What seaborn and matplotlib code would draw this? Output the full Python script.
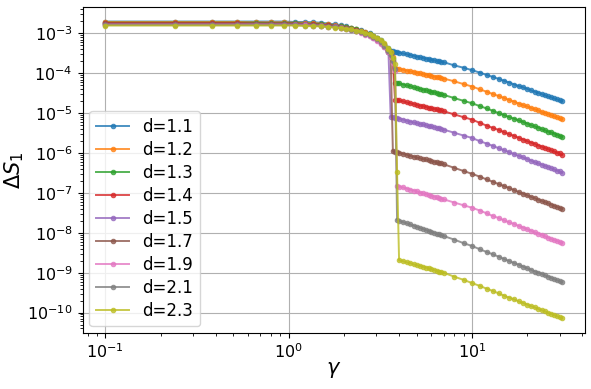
import numpy as np
import matplotlib
matplotlib.use('Agg')
import matplotlib.pyplot as plt
import seaborn as sns

# griglia di gamma (tre tratti con passo diverso)
gamma_lo = [0.10, 0.24, 0.38, 0.52, 0.66, 0.80, 0.94, 1.08, 1.22, 1.36, 1.50, 1.64, 1.78,
            1.92, 2.06, 2.20, 2.34, 2.48, 2.62, 2.76, 2.90, 3.04, 3.18, 3.32, 3.46]
gamma_mid = [3.5, 3.6, 3.7, 3.8, 3.9, 4.0, 4.2, 4.4, 4.6, 4.8, 5.0, 5.2, 5.4, 5.6, 5.8,
             6.0, 6.2, 6.4, 6.6, 6.8]
gamma_hi = [7, 8, 9, 10, 11, 12, 13, 14, 15, 16, 17, 18, 19, 20, 21, 22, 23, 24, 25,
            26, 27, 28, 29, 30, 31]

labels = ['d=1.1', 'd=1.2', 'd=1.3', 'd=1.4', 'd=1.5', 'd=1.7', 'd=1.9', 'd=2.1', 'd=2.3']

# log10(Delta S_1), un array per ogni d
log_d11 = [-2.70, -2.70, -2.70, -2.70, -2.70, -2.70, -2.70, -2.71, -2.71, -2.72, -2.73, -2.75, -2.77,
           -2.79, -2.82, -2.85, -2.88, -2.92, -2.96, -3.00, -3.06, -3.11, -3.17, -3.26, -3.37,
           -3.40, -3.44, -3.45, -3.46, -3.47, -3.48, -3.50, -3.52, -3.54, -3.56, -3.58, -3.60, -3.61,
           -3.63, -3.64, -3.66, -3.67, -3.69, -3.70, -3.71,
           -3.72, -3.80, -3.86, -3.92, -3.98, -4.04, -4.09, -4.14, -4.19, -4.23, -4.28, -4.32, -4.35,
           -4.39, -4.43, -4.46, -4.49, -4.52, -4.55, -4.58, -4.60, -4.63, -4.65, -4.68, -4.70]
log_d12 = [-2.71, -2.71, -2.71, -2.71, -2.72, -2.72, -2.72, -2.73, -2.73, -2.74, -2.75, -2.77, -2.79,
           -2.81, -2.83, -2.86, -2.89, -2.93, -2.97, -3.01, -3.06, -3.11, -3.18, -3.27, -3.38,
           -3.41, -3.47, -3.60, -3.87, -3.88, -3.89, -3.91, -3.93, -3.95, -3.96, -3.98, -4.00, -4.02,
           -4.03, -4.05, -4.06, -4.08, -4.09, -4.10, -4.12,
           -4.13, -4.20, -4.27, -4.33, -4.40, -4.46, -4.52, -4.57, -4.62, -4.67, -4.71, -4.76, -4.80,
           -4.83, -4.87, -4.90, -4.93, -4.97, -4.99, -5.02, -5.05, -5.08, -5.10, -5.13, -5.15]
log_d13 = [-2.73, -2.73, -2.73, -2.73, -2.73, -2.74, -2.74, -2.74, -2.75, -2.75, -2.77, -2.78, -2.80,
           -2.82, -2.84, -2.87, -2.90, -2.94, -2.98, -3.02, -3.07, -3.12, -3.19, -3.28, -3.39,
           -3.42, -3.50, -3.65, -4.23, -4.24, -4.25, -4.28, -4.30, -4.32, -4.35, -4.37, -4.39, -4.41,
           -4.42, -4.44, -4.46, -4.47, -4.49, -4.51, -4.52,
           -4.54, -4.62, -4.69, -4.75, -4.82, -4.88, -4.94, -5.00, -5.05, -5.10, -5.14, -5.18, -5.22,
           -5.26, -5.30, -5.33, -5.36, -5.40, -5.43, -5.46, -5.48, -5.51, -5.54, -5.56, -5.59]
log_d14 = [-2.74, -2.74, -2.74, -2.74, -2.75, -2.75, -2.75, -2.75, -2.76, -2.77, -2.78, -2.79, -2.81,
           -2.83, -2.85, -2.88, -2.91, -2.95, -2.99, -3.04, -3.09, -3.14, -3.21, -3.30, -3.41,
           -3.44, -3.52, -3.70, -4.66, -4.67, -4.68, -4.70, -4.73, -4.75, -4.77, -4.79, -4.81, -4.82,
           -4.84, -4.86, -4.87, -4.89, -4.90, -4.92, -4.93,
           -4.95, -5.03, -5.10, -5.16, -5.24, -5.31, -5.37, -5.42, -5.48, -5.53, -5.57, -5.62, -5.66,
           -5.70, -5.74, -5.77, -5.81, -5.84, -5.87, -5.90, -5.93, -5.96, -5.99, -6.01, -6.04]
log_d15 = [-2.76, -2.76, -2.76, -2.76, -2.76, -2.76, -2.76, -2.77, -2.77, -2.78, -2.79, -2.80, -2.82,
           -2.84, -2.87, -2.90, -2.93, -2.97, -3.01, -3.06, -3.11, -3.17, -3.24, -3.34, -3.44,
           -3.47, -5.09, -5.10, -5.12, -5.13, -5.14, -5.16, -5.19, -5.21, -5.23, -5.25, -5.27, -5.28,
           -5.30, -5.32, -5.33, -5.35, -5.36, -5.38, -5.39,
           -5.41, -5.49, -5.56, -5.62, -5.70, -5.76, -5.82, -5.88, -5.93, -5.98, -6.03, -6.07, -6.11,
           -6.15, -6.19, -6.23, -6.26, -6.29, -6.32, -6.35, -6.38, -6.41, -6.44, -6.46, -6.49]
log_d17 = [-2.77, -2.77, -2.77, -2.77, -2.77, -2.77, -2.77, -2.78, -2.78, -2.79, -2.80, -2.81, -2.83,
           -2.85, -2.87, -2.90, -2.93, -2.97, -3.01, -3.05, -3.10, -3.16, -3.23, -3.32, -3.42,
           -3.46, -3.58, -5.95, -5.97, -5.98, -5.99, -6.02, -6.04, -6.07, -6.09, -6.11, -6.13, -6.15,
           -6.16, -6.18, -6.20, -6.22, -6.23, -6.25, -6.26,
           -6.28, -6.37, -6.45, -6.52, -6.59, -6.66, -6.72, -6.78, -6.83, -6.88, -6.93, -6.98, -7.02,
           -7.06, -7.10, -7.13, -7.17, -7.20, -7.23, -7.26, -7.29, -7.32, -7.35, -7.37, -7.40]
log_d19 = [-2.78, -2.78, -2.78, -2.78, -2.78, -2.78, -2.78, -2.79, -2.79, -2.80, -2.81, -2.83, -2.84,
           -2.87, -2.89, -2.92, -2.95, -2.99, -3.03, -3.07, -3.12, -3.19, -3.26, -3.35, -3.44,
           -3.47, -3.58, -3.75, -3.95, -6.82, -6.84, -6.86, -6.89, -6.92, -6.94, -6.96, -6.99, -7.01,
           -7.03, -7.05, -7.07, -7.09, -7.11, -7.13, -7.14,
           -7.16, -7.24, -7.31, -7.37, -7.44, -7.51, -7.58, -7.63, -7.69, -7.74, -7.78, -7.83, -7.87,
           -7.91, -7.95, -7.99, -8.02, -8.05, -8.09, -8.12, -8.15, -8.18, -8.20, -8.23, -8.25]
log_d21 = [-2.79, -2.79, -2.79, -2.79, -2.79, -2.79, -2.79, -2.79, -2.80, -2.80, -2.82, -2.83, -2.84,
           -2.86, -2.88, -2.91, -2.94, -2.97, -3.01, -3.05, -3.10, -3.15, -3.22, -3.31, -3.41,
           -3.45, -3.55, -3.70, -3.90, -7.68, -7.70, -7.73, -7.76, -7.79, -7.82, -7.85, -7.88, -7.90,
           -7.93, -7.95, -7.97, -8.00, -8.02, -8.04, -8.06,
           -8.08, -8.17, -8.26, -8.33, -8.41, -8.48, -8.54, -8.60, -8.66, -8.71, -8.76, -8.80, -8.85,
           -8.89, -8.93, -8.97, -9.00, -9.03, -9.07, -9.10, -9.13, -9.16, -9.19, -9.21, -9.24]
log_d23 = [-2.80, -2.80, -2.80, -2.80, -2.80, -2.80, -2.80, -2.80, -2.81, -2.82, -2.82, -2.84, -2.85,
           -2.86, -2.88, -2.90, -2.93, -2.95, -2.99, -3.02, -3.07, -3.11, -3.17, -3.25, -3.36,
           -3.39, -3.46, -3.62, -3.77, -6.48, -8.69, -8.71, -8.74, -8.76, -8.79, -8.81, -8.83, -8.85,
           -8.87, -8.89, -8.91, -8.93, -8.95, -8.97, -8.98,
           -9.00, -9.10, -9.18, -9.26, -9.33, -9.40, -9.46, -9.52, -9.58, -9.63, -9.67, -9.72, -9.76,
           -9.80, -9.84, -9.87, -9.91, -9.94, -9.97, -10.01, -10.03, -10.06, -10.09, -10.12, -10.14]

series = [log_d11, log_d12, log_d13, log_d14, log_d15, log_d17, log_d19, log_d21, log_d23]
gamma = np.array(gamma_lo + gamma_mid + gamma_hi, dtype=float)
colors = sns.color_palette('tab10', 9)

fig = plt.figure(figsize=(5.91, 3.89), dpi=100)
ax = fig.add_axes([0.1396, 0.144, 0.8502, 0.8388])

for lab, logs, c in zip(labels, series, colors):
    sns.lineplot(x=gamma, y=10.0 ** np.array(logs), ax=ax, label=lab, color=c,
                 marker='o', markersize=3.4, markeredgecolor=c, markeredgewidth=0.6,
                 linewidth=1.4, alpha=0.8, sort=False, estimator=None)

ax.set_xscale('log')
ax.set_yscale('log')
ax.grid(True, which='major', color='#b0b0b0', linewidth=0.8)
ax.tick_params(labelsize=11.5)
ax.set_xlabel(r'$\gamma$', fontsize=15, labelpad=-1)
ax.set_ylabel(r'$\Delta S_1$', fontsize=15, labelpad=1)
ax.legend(loc='lower left', fontsize=12, borderaxespad=0.4, labelspacing=0.3)

fig.savefig('out.png', dpi=100)
